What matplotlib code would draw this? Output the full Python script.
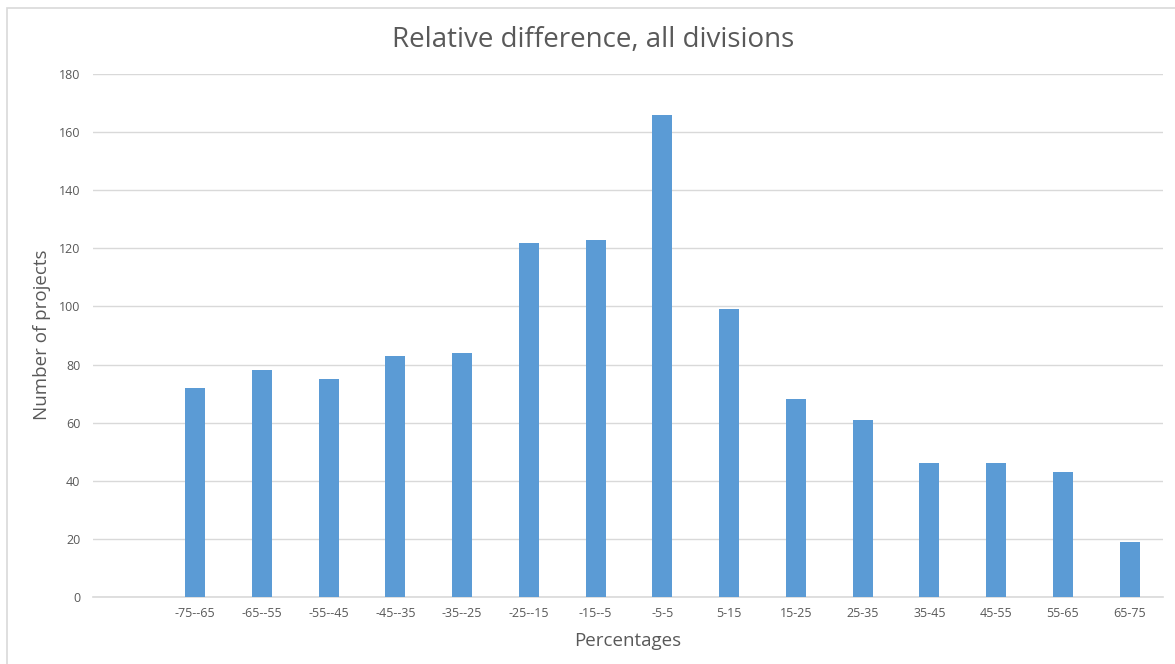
import matplotlib.pyplot as plt
from matplotlib.patches import Rectangle

# Histogram of relative difference, all divisions
bins = ['', '-75--65', '-65--55', '-55--45', '-45--35', '-35--25', '-25--15',
        '-15--5', '-5-5', '5-15', '15-25', '25-35', '35-45', '45-55', '55-65', '65-75']
counts = [0, 72, 78, 75, 83, 84, 122, 123, 166, 99, 68, 61, 46, 46, 43, 19]

plt.rcParams['font.family'] = ['Open Sans', 'DejaVu Sans']
text_col = '#595959'
grid_col = '#D9D9D9'

fig = plt.figure(figsize=(11.75, 6.64), dpi=100)
fig.patch.set_facecolor('white')
# chart border
fig.patches.append(Rectangle((7 / 1175, -0.05), 1.2, 1 - 8 / 664 + 0.05,
                             transform=fig.transFigure, fill=False,
                             edgecolor='#D9D9D9', linewidth=1.2))

ax = fig.add_axes([93 / 1175, 1 - 597 / 664, 1070 / 1175, 523 / 664])
x = list(range(len(bins)))
ax.bar(x, counts, width=0.3, color='#5B9BD5', zorder=3)

ax.set_xlim(-0.53, len(bins) - 0.5)
ax.set_ylim(0, 180)
ax.set_yticks(range(0, 181, 20))
ax.set_xticks(x)
ax.set_xticklabels(bins, fontsize=9, color=text_col)
ax.tick_params(axis='y', labelsize=9, labelcolor=text_col, length=0, pad=9)
ax.tick_params(axis='x', length=0, pad=7)
ax.grid(axis='y', color=grid_col, linewidth=1, zorder=0)
for s in ['top', 'right', 'left']:
    ax.spines[s].set_visible(False)
ax.spines['bottom'].set_color(grid_col)
ax.spines['bottom'].set_linewidth(1.2)

fig.text(593 / 1175, 1 - 40 / 664, 'Relative difference, all divisions',
         fontsize=20, color=text_col, ha='center', va='center')
ax.set_xlabel('Percentages', fontsize=13.5, color=text_col, labelpad=9)
fig.text(42 / 1175, 1 - 335 / 664, 'Number of projects', fontsize=13.5,
         color=text_col, rotation=90, ha='center', va='center')

fig.savefig('out.png', dpi=100)
